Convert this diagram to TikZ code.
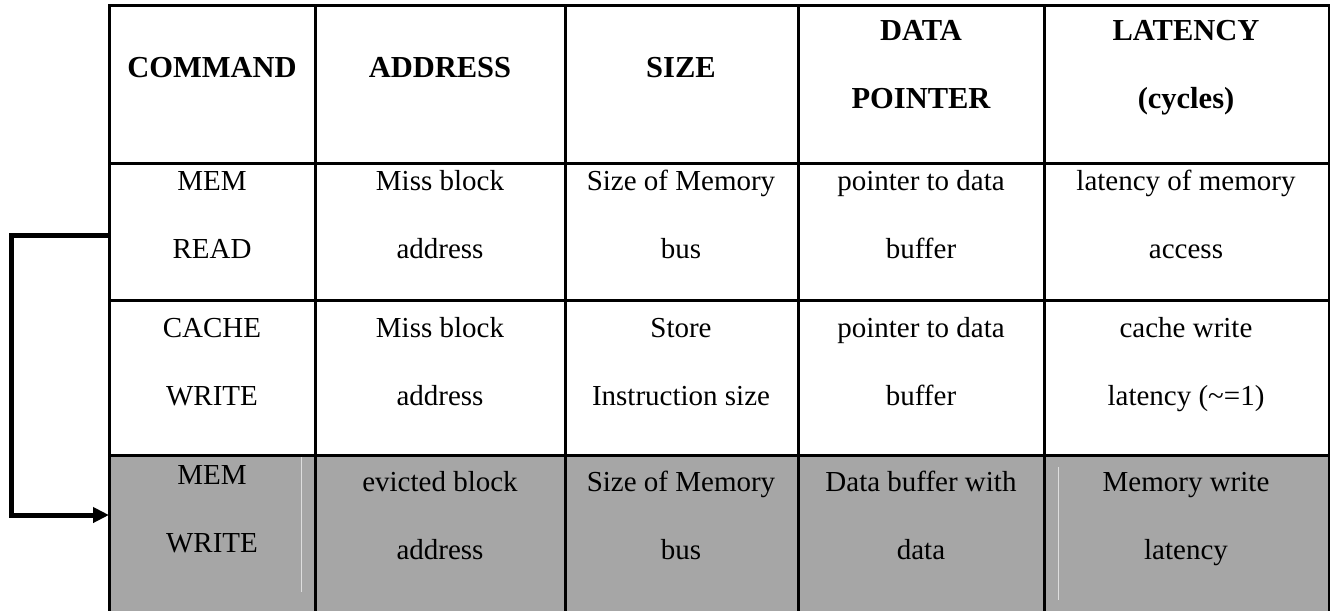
\documentclass[tikz,border=0pt]{standalone}
\usepackage{fontspec}
\setmainfont{Liberation Serif}
\usetikzlibrary{arrows.meta}
\definecolor{rowgray}{RGB}{166,166,166}
\definecolor{seam}{RGB}{222,222,222}
\tikzset{
	cell/.style={font=\fontsize{17.4}{40.8}\selectfont,align=center,inner sep=0pt,anchor=base},
	head/.style={font=\fontsize{18.3}{40.8}\selectfont\bfseries,align=center,inner sep=0pt,anchor=base},
	rule/.style={line width=1.8pt},
}
\begin{document}
\begin{tikzpicture}[x=0.6pt,y=-0.6pt]
	\useasboundingbox (0,0) rectangle (1330,610);
	
	\fill[rowgray] (109,455) rectangle (1329,614);
	\draw[seam,line width=0.6pt] (301,457) -- (301,592);
	\draw[seam,line width=0.6pt] (1058,467) -- (1058,600);
	
	\foreach \x in {109,315,565,798,1044,1329}
	\draw[rule] (\x,5) -- (\x,614);
	\foreach \y in {5,163,300,455}
	\draw[rule] (108,\y) -- (1330,\y);
	
	% header
	\node[head] (hcmd) at (212,77) {COMMAND};
	\node[head] (hadr) at (440,77) {ADDRESS};
	\node[head] (hsize) at (681,77) {SIZE};
	\node[head] (hptr) at (921,108) {DATA\\POINTER};
	\node[head] (hlat) at (1186,108) {LATENCY\\(cycles)};
	
	% mem read
	\node[cell] (cmd1) at (212,258) {MEM\\READ};
	\node[cell] (adr1) at (440,258) {Miss block\\address};
	\node[cell] (size1) at (681,258) {Size of Memory\\bus};
	\node[cell] (ptr1) at (921,258) {pointer to data\\buffer};
	\node[cell] (lat1) at (1186,258) {latency of memory\\access};
	
	% cache write
	\node[cell] (cmd2) at (212,405) {CACHE\\WRITE};
	\node[cell] (adr2) at (440,405) {Miss block\\address};
	\node[cell] (size2) at (681,405) {Store\\Instruction size};
	\node[cell] (ptr2) at (921,405) {pointer to data\\buffer};
	\node[cell] (lat2) at (1186,405) {cache write\\latency (\textasciitilde=1)};
	
	% mem write
	\node[cell] (cmd3) at (212,552) {MEM\\WRITE};
	\node[cell] (adr3) at (440,559) {evicted block\\address};
	\node[cell] (size3) at (681,559) {Size of Memory\\bus};
	\node[cell] (ptr3) at (921,559) {Data buffer with\\data};
	\node[cell] (lat3) at (1186,559) {Memory write\\latency};
	
	\coordinate (rdin) at (110,235);
	\coordinate (wrin) at (109,515);
	\draw[line width=3pt,-{Triangle[length=9.6pt,width=9pt]}] (rdin) -- (11,235) |- (wrin);
\end{tikzpicture}
\end{document}
